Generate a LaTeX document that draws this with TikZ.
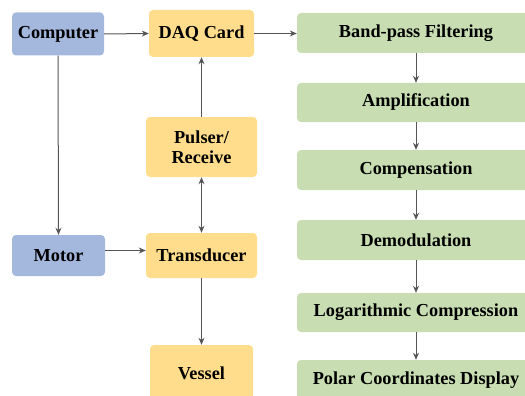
\documentclass[tikz,border=0pt]{standalone}
\usepackage{fontspec}
\setmainfont{Liberation Serif}
\usetikzlibrary{arrows.meta}
\definecolor{bluebox}{RGB}{164,184,222}
\definecolor{yellowbox}{RGB}{255,221,140}
\definecolor{greenbox}{RGB}{200,222,178}
\definecolor{arrowgray}{RGB}{85,85,85}
\tikzset{
  lbl/.style={font=\fontsize{18.3}{20}\selectfont\bfseries, align=center},
  box/.style={rounded corners=4pt, inner sep=0pt, lbl},
  bluestyle/.style={box, fill=bluebox},
  yellowstyle/.style={box, fill=yellowbox},
  greenstyle/.style={box, fill=greenbox},
  conn/.style={draw=arrowgray, line width=1pt, -{Stealth[length=7pt,width=6pt]}},
  bconn/.style={draw=arrowgray, line width=1pt, {Stealth[length=7pt,width=6pt]}-{Stealth[length=7pt,width=6pt]}}
}
\begin{document}
\begin{tikzpicture}[x=1pt,y=-1pt]
\useasboundingbox (0,0) rectangle (525,396);
\clip (0,0) rectangle (525,396);
% blue
\node[bluestyle, minimum width=92pt, minimum height=43pt] (comp) at (58,34) {Computer};
\node[bluestyle, minimum width=93pt, minimum height=41pt] (motor) at (58.5,255.5) {Motor};
% yellow
\node[yellowstyle, minimum width=105pt, minimum height=47pt] (daq) at (201.5,33.5) {DAQ Card};
\node[yellowstyle, minimum width=111pt, minimum height=60pt] (pulser) at (201.5,147) {Pulser/\\Receive};
\node[yellowstyle, minimum width=111pt, minimum height=45pt] (trans) at (201.5,255.5) {Transducer};
\node[yellowstyle, minimum width=103pt, minimum height=56pt] (vessel) at (201.5,373) {Vessel};
% green (extend beyond right edge)
\node[greenstyle, minimum width=236pt, minimum height=40pt] (bp) at (415,33) {};
\node[lbl] at (416,33) (bpt) {Band-pass Filtering};
\node[greenstyle, minimum width=236pt, minimum height=39pt] (amp) at (415,102.5) {};
\node[lbl] at (416,102.5) (ampt) {Amplification};
\node[greenstyle, minimum width=236pt, minimum height=40pt] (cmp) at (415,170) {};
\node[lbl] at (416,170) (cmpt) {Compensation};
\node[greenstyle, minimum width=236pt, minimum height=40pt] (dem) at (415,240) {};
\node[lbl] at (416,240) (demt) {Demodulation};
\node[greenstyle, minimum width=236pt, minimum height=39pt] (log) at (415,312.5) {};
\node[lbl] at (416,312.5) (logt) {Logarithmic Compression};
\node[greenstyle, minimum width=236pt, minimum height=40pt] (pol) at (415,380) {};
\node[lbl] at (416,380) (polt) {Polar Coordinates Display};
% connectors
\draw[conn] (comp.east) -- (daq.west);
\draw[conn] (daq.east) -- (daq.east -| bp.west);
\draw[conn] (comp.south) -- (motor.north);
\draw[conn] (pulser.north) -- (daq.south);
\draw[bconn] (pulser.south) -- (trans.north);
\draw[conn] ([yshift=5pt]motor.east) -- ([yshift=5pt]motor.east -| trans.west);
\draw[conn] (trans.south) -- (trans.south |- vessel.north);
\draw[conn] (bpt |- bp.south) -- (bpt |- amp.north);
\draw[conn] (bpt |- amp.south) -- (bpt |- cmp.north);
\draw[conn] (bpt |- cmp.south) -- (bpt |- dem.north);
\draw[conn] (bpt |- dem.south) -- (bpt |- log.north);
\draw[conn] (bpt |- log.south) -- (bpt |- pol.north);
\end{tikzpicture}
\end{document}
